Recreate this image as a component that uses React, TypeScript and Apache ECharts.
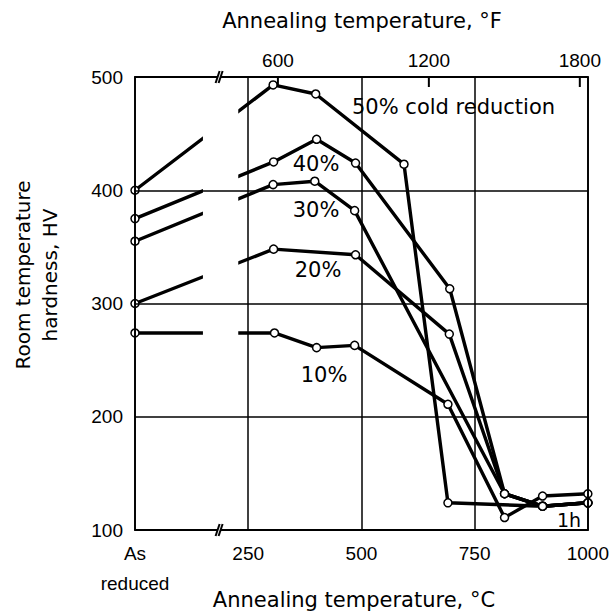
import React, { useEffect, useRef } from "react";
import * as echarts from "echarts";

// ---- data (x = annealing temperature in °C, 0 = "As reduced"; y = hardness HV) ----
const C_TICKS = [0, 250, 500, 750, 1000];
const F_TICKS = [600, 1200, 1800];
const HV_MIN = 100;
const HV_MAX = 500;
const AS_REDUCED_LABEL = "As\nreduced";

const red10 = [[0, 274], [308, 274], [401, 261], [485, 263], [691, 211], [816, 111], [900, 130], [1000, 132]];
const red20 = [[0, 300], [306, 348], [487, 343], [694, 273], [816, 132], [900, 121], [1000, 124]];
const red30 = [[0, 355], [305, 405], [397, 408], [485, 382], [816, 132], [900, 121], [1000, 124]];
const red40 = [[0, 375], [306, 425], [401, 445], [487, 424], [695, 313], [816, 132], [900, 121], [1000, 124]];
const red50 = [[0, 400], [305, 493], [399, 485], [594, 423], [691, 124], [900, 121], [1000, 124]];

const seriesNames = ["10%", "20%", "30%", "40%", "50% cold reduction"];
const seriesData = [red10, red20, red30, red40, red50];

// axis break (gap between "As reduced" and the annealed range)
const GAP_START = 150;
const GAP_END = 228;
const BREAK_AT = 189;

const TICK_FONT = "Liberation Sans";
const TEXT_FONT = "DejaVu Sans";

export default function App() {
  const ref = useRef<HTMLDivElement>(null);
  useEffect(() => {
    if (!ref.current) return;
    const chart = echarts.init(ref.current, null, { renderer: "svg" });
    const black = "#000";
    const axisLine = { show: true, lineStyle: { color: black, width: 1.8 } };
    const cToF = (c: number) => c * 1.8 + 32;
    const fToC = (f: number) => (f - 32) / 1.8;

    const lineSeries = seriesData.map((d, i) => ({
      name: seriesNames[i],
      type: "line",
      xAxisIndex: 0,
      yAxisIndex: 0,
      data: d,
      z: 2,
      lineStyle: { color: black, width: 3.4 },
      symbol: "circle",
      symbolSize: 8,
      itemStyle: { color: "#fff", borderColor: black, borderWidth: 1.5 },
      emphasis: { disabled: true },
    }));

    const option: any = {
      animation: false,
      backgroundColor: "#fff",
      grid: { left: 135, right: 23, top: 77, bottom: 85 },
      xAxis: [
        {
          type: "value",
          position: "bottom",
          min: C_TICKS[0],
          max: C_TICKS[C_TICKS.length - 1],
          interval: 250,
          z: 10,
          axisLine,
          axisTick: { show: false },
          axisLabel: {
            formatter: (v: number) => (v === 0 ? AS_REDUCED_LABEL : String(v)),
            color: black,
            fontFamily: TICK_FONT,
            fontSize: 19,
            lineHeight: 30,
            margin: 8,
            verticalAlign: "top",
          },
          splitLine: { show: true, lineStyle: { color: black, width: 1.5 } },
        },
        {
          type: "value",
          position: "top",
          min: cToF(C_TICKS[0]),
          max: cToF(C_TICKS[C_TICKS.length - 1]),
          z: 10,
          axisLine,
          axisTick: { show: false },
          axisLabel: {
            customValues: F_TICKS,
            formatter: (v: number) => String(v),
            color: black,
            fontFamily: TICK_FONT,
            fontSize: 19,
            margin: 7,
          },
          splitLine: { show: false },
        },
      ],
      yAxis: [
        {
          type: "value",
          min: HV_MIN,
          max: HV_MAX,
          interval: 100,
          z: 10,
          axisLine,
          axisTick: { show: false },
          axisLabel: { color: black, fontFamily: TICK_FONT, fontSize: 19, margin: 12 },
          splitLine: { show: true, lineStyle: { color: black, width: 1.5 } },
        },
        {
          type: "value",
          position: "right",
          min: HV_MIN,
          max: HV_MAX,
          interval: 100,
          z: 10,
          axisLine,
          axisTick: { show: false },
          axisLabel: { show: false },
          splitLine: { show: false },
        },
      ],
      series: [
        ...lineSeries,
        {
          type: "custom",
          xAxisIndex: 0,
          yAxisIndex: 0,
          z: 3,
          silent: true,
          data: [[GAP_START, HV_MIN]],
          renderItem: (_p: any, api: any) => {
            const a = api.coord([GAP_START, HV_MAX]);
            const b = api.coord([GAP_END, HV_MIN]);
            return {
              type: "rect",
              shape: { x: a[0], y: a[1] + 1, width: b[0] - a[0], height: b[1] - a[1] - 2 },
              style: { fill: "#fff" },
            };
          },
        },
        {
          // axis-break marks plus the inward °F ticks of the top axis
          type: "custom",
          xAxisIndex: 0,
          yAxisIndex: 0,
          z: 20,
          silent: true,
          clip: false,
          data: [[BREAK_AT, HV_MIN], [BREAK_AT, HV_MAX]],
          renderItem: (params: any, api: any) => {
            const p = api.coord([api.value(0), api.value(1)]);
            const x = p[0];
            const y = p[1];
            const children: any[] = [
              {
                type: "polygon",
                shape: { points: [[x - 5, y + 6], [x - 1, y - 6], [x + 2, y - 6], [x - 2, y + 6]] },
                style: { fill: "#fff" },
              },
              {
                type: "line",
                shape: { x1: x - 5, y1: y + 6, x2: x - 1, y2: y - 6 },
                style: { stroke: black, lineWidth: 2 },
              },
              {
                type: "line",
                shape: { x1: x - 2, y1: y + 6, x2: x + 2, y2: y - 6 },
                style: { stroke: black, lineWidth: 2 },
              },
            ];
            if (params.dataIndex === 1) {
              F_TICKS.forEach((f) => {
                const t = api.coord([fToC(f), HV_MAX]);
                children.push({
                  type: "line",
                  shape: { x1: t[0], y1: t[1], x2: t[0] + 0.01, y2: t[1] + 10 },
                  style: { stroke: black, lineWidth: 2 },
                });
              });
            }
            return { type: "group", children };
          },
        },
      ],
      graphic: [
        {
          type: "text",
          x: 362,
          y: 21,
          style: { text: "Annealing temperature, °F", font: `21px ${TEXT_FONT}`, fill: black, align: "center", verticalAlign: "middle" },
        },
        {
          type: "text",
          x: 354,
          y: 600,
          style: { text: "Annealing temperature, °C", font: `21px ${TEXT_FONT}`, fill: black, align: "center", verticalAlign: "middle" },
        },
        {
          type: "text",
          x: 36,
          y: 275,
          rotation: Math.PI / 2,
          style: {
            text: "Room temperature\nhardness, HV",
            font: `20px ${TEXT_FONT}`,
            lineHeight: 27,
            fill: black,
            align: "center",
            verticalAlign: "middle",
          },
        },
        { type: "text", x: 352, y: 107, style: { text: "50% cold reduction", font: `21px ${TEXT_FONT}`, fill: black, align: "left", verticalAlign: "middle" } },
        { type: "text", x: 316, y: 164, style: { text: "40%", font: `21px ${TEXT_FONT}`, fill: black, align: "center", verticalAlign: "middle" } },
        { type: "text", x: 316, y: 210, style: { text: "30%", font: `21px ${TEXT_FONT}`, fill: black, align: "center", verticalAlign: "middle" } },
        { type: "text", x: 318, y: 270, style: { text: "20%", font: `21px ${TEXT_FONT}`, fill: black, align: "center", verticalAlign: "middle" } },
        { type: "text", x: 324, y: 375, style: { text: "10%", font: `21px ${TEXT_FONT}`, fill: black, align: "center", verticalAlign: "middle" } },
        { type: "text", x: 569, y: 520, style: { text: "1h", font: `19px ${TEXT_FONT}`, fill: black, align: "center", verticalAlign: "middle" } },
      ],
    };
    chart.setOption(option);
    return () => chart.dispose();
  }, []);
  return <div ref={ref} style={{ width: 612, height: 615, position: "absolute", left: 0, top: 0 }} />;
}
